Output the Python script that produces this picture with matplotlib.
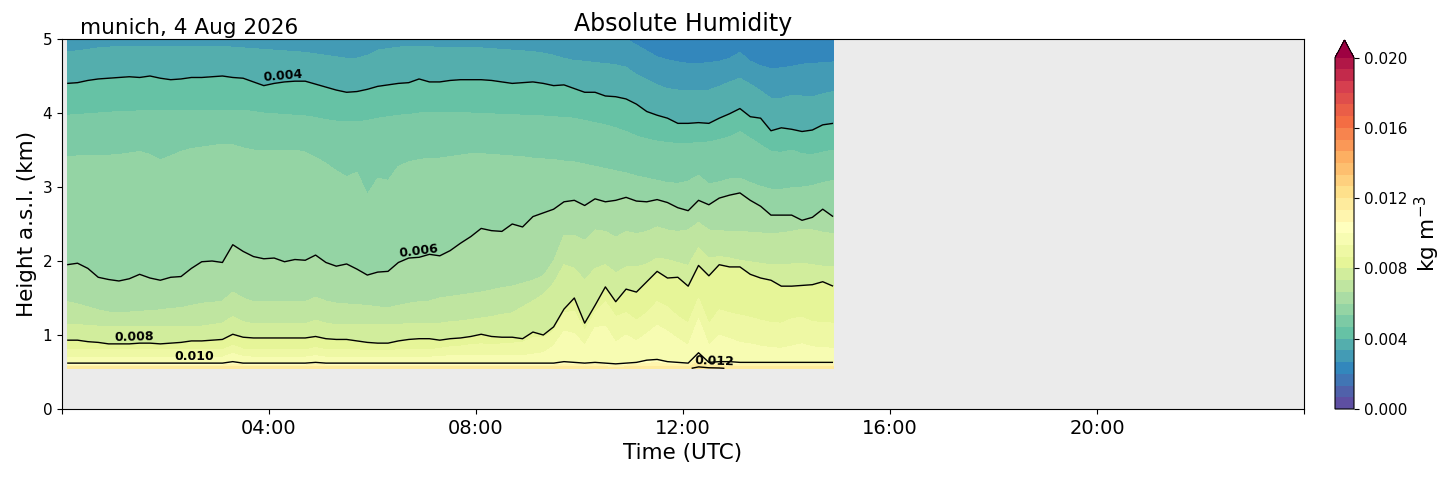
import numpy as np
import matplotlib
matplotlib.use("Agg")
import matplotlib.pyplot as plt
from matplotlib.colors import BoundaryNorm

# profile times (hours UTC), one profile every 12 min
hours = np.round(np.arange(0.1, 14.95, 0.2), 2)

# height (km) of humidity isolines, one value per profile
h_0027 = [5.0] * 55 + [4.92, 4.84, 4.76, 4.72, 4.69, 4.67, 4.67, 4.68, 4.70, 4.74,
                       4.82, 4.70, 4.64, 4.60, 4.61, 4.63, 4.66, 4.67, 4.68, 4.69]
h_0033 = [4.83, 4.84, 4.86, 4.88, 4.89, 4.90, 4.90, 4.90, 4.90, 4.90,
          4.90, 4.90, 4.90, 4.90, 4.90, 4.90, 4.89, 4.88, 4.87, 4.86,
          4.85, 4.84, 4.83, 4.82, 4.80, 4.78, 4.76, 4.74, 4.74, 4.78,
          4.85, 4.87, 4.89, 4.90, 4.90, 4.90, 4.88, 4.88, 4.89, 4.89,
          4.88, 4.87, 4.86, 4.85, 4.84, 4.83, 4.81, 4.78, 4.74, 4.71,
          4.70, 4.68, 4.67, 4.65, 4.62, 4.52, 4.45, 4.38, 4.33, 4.31,
          4.31, 4.31, 4.31, 4.36, 4.42, 4.47, 4.39, 4.30, 4.20, 4.20,
          4.24, 4.23, 4.22, 4.26, 4.29]
h_004 = [4.40, 4.41, 4.44, 4.46, 4.47, 4.48, 4.49, 4.48, 4.50, 4.47,
         4.45, 4.46, 4.48, 4.48, 4.49, 4.50, 4.48, 4.47, 4.42, 4.37,
         4.40, 4.42, 4.43, 4.43, 4.39, 4.35, 4.31, 4.28, 4.29, 4.32,
         4.36, 4.38, 4.40, 4.41, 4.46, 4.42, 4.42, 4.44, 4.45, 4.45,
         4.45, 4.44, 4.42, 4.40, 4.41, 4.42, 4.40, 4.37, 4.38, 4.33,
         4.28, 4.28, 4.23, 4.22, 4.19, 4.12, 4.02, 3.97, 3.93, 3.86,
         3.86, 3.87, 3.86, 3.93, 3.99, 4.06, 3.95, 3.93, 3.76, 3.80,
         3.78, 3.75, 3.77, 3.84, 3.86]
h_0047 = [3.97, 3.98, 3.99, 4.00, 4.01, 4.02, 4.02, 4.03, 4.03, 4.03,
          4.03, 4.04, 4.04, 4.04, 4.04, 4.04, 4.04, 4.04, 4.02, 4.00,
          3.99, 3.98, 3.97, 3.96, 3.94, 3.91, 3.89, 3.88, 3.88, 3.90,
          3.93, 3.95, 3.97, 3.98, 4.00, 4.01, 4.00, 4.01, 4.01, 4.00,
          3.99, 3.99, 3.98, 3.98, 3.97, 3.97, 3.96, 3.95, 3.94, 3.93,
          3.90, 3.87, 3.84, 3.80, 3.75, 3.69, 3.65, 3.62, 3.60, 3.59,
          3.59, 3.60, 3.61, 3.64, 3.68, 3.75, 3.66, 3.57, 3.48, 3.47,
          3.50, 3.45, 3.44, 3.47, 3.50]
h_0053 = [3.41, 3.42, 3.42, 3.43, 3.43, 3.44, 3.46, 3.48, 3.44, 3.37,
          3.42, 3.48, 3.52, 3.54, 3.56, 3.58, 3.57, 3.53, 3.50, 3.50,
          3.50, 3.49, 3.50, 3.47, 3.40, 3.32, 3.22, 3.14, 3.20, 2.90,
          3.12, 3.09, 3.28, 3.34, 3.37, 3.39, 3.39, 3.41, 3.43, 3.45,
          3.45, 3.44, 3.43, 3.42, 3.41, 3.39, 3.38, 3.37, 3.35, 3.34,
          3.31, 3.28, 3.25, 3.22, 3.19, 3.15, 3.12, 3.09, 3.06, 3.05,
          3.08, 3.16, 3.04, 3.07, 3.11, 3.12, 3.06, 3.01, 2.97, 2.97,
          2.99, 3.00, 3.02, 3.06, 3.09]
h_006 = [1.95, 1.97, 1.90, 1.78, 1.75, 1.73, 1.76, 1.82, 1.77, 1.74,
         1.78, 1.79, 1.90, 1.99, 2.00, 1.98, 2.22, 2.13, 2.06, 2.03,
         2.04, 1.99, 2.02, 2.01, 2.08, 1.98, 1.93, 1.96, 1.89, 1.81,
         1.85, 1.86, 1.98, 2.04, 2.05, 2.09, 2.07, 2.14, 2.24, 2.33,
         2.44, 2.41, 2.40, 2.50, 2.46, 2.60, 2.65, 2.70, 2.80, 2.82,
         2.75, 2.84, 2.80, 2.82, 2.86, 2.81, 2.80, 2.83, 2.79, 2.72,
         2.68, 2.82, 2.76, 2.85, 2.89, 2.92, 2.82, 2.74, 2.62, 2.62,
         2.62, 2.55, 2.59, 2.70, 2.60]
h_0067 = [1.45, 1.42, 1.38, 1.34, 1.31, 1.31, 1.31, 1.32, 1.33, 1.34,
          1.36, 1.37, 1.40, 1.43, 1.44, 1.46, 1.58, 1.50, 1.45, 1.45,
          1.45, 1.45, 1.45, 1.45, 1.51, 1.46, 1.43, 1.42, 1.41, 1.40,
          1.38, 1.37, 1.40, 1.43, 1.45, 1.46, 1.50, 1.52, 1.54, 1.56,
          1.58, 1.61, 1.64, 1.66, 1.70, 1.74, 1.80, 2.00, 2.35, 2.35,
          2.28, 2.42, 2.40, 2.32, 2.40, 2.37, 2.40, 2.46, 2.42, 2.40,
          2.42, 2.52, 2.42, 2.41, 2.40, 2.40, 2.39, 2.38, 2.37, 2.38,
          2.40, 2.43, 2.42, 2.39, 2.37]
h_0073 = [1.14, 1.14, 1.13, 1.12, 1.12, 1.12, 1.12, 1.12, 1.12, 1.12,
          1.12, 1.12, 1.12, 1.12, 1.14, 1.16, 1.25, 1.18, 1.15, 1.15,
          1.15, 1.15, 1.15, 1.15, 1.20, 1.16, 1.14, 1.14, 1.14, 1.14,
          1.14, 1.14, 1.14, 1.16, 1.16, 1.16, 1.16, 1.18, 1.19, 1.21,
          1.23, 1.25, 1.28, 1.30, 1.38, 1.46, 1.55, 1.70, 1.95, 1.90,
          1.74, 1.90, 1.95, 1.84, 1.92, 1.92, 1.96, 2.04, 2.02, 1.98,
          1.94, 2.18, 2.04, 2.06, 2.04, 2.01, 1.99, 1.97, 1.95, 1.95,
          1.96, 1.97, 1.95, 1.93, 1.92]
h_008 = [0.93, 0.93, 0.91, 0.90, 0.88, 0.88, 0.88, 0.89, 0.89, 0.88,
         0.89, 0.90, 0.92, 0.92, 0.93, 0.94, 1.01, 0.97, 0.96, 0.96,
         0.96, 0.96, 0.96, 0.96, 0.98, 0.95, 0.94, 0.94, 0.92, 0.90,
         0.89, 0.89, 0.92, 0.94, 0.95, 0.95, 0.93, 0.95, 0.96, 0.98,
         1.01, 0.98, 0.97, 0.97, 0.95, 1.04, 1.00, 1.11, 1.35, 1.50,
         1.16, 1.40, 1.65, 1.45, 1.62, 1.58, 1.72, 1.86, 1.77, 1.78,
         1.66, 1.94, 1.80, 1.95, 1.92, 1.92, 1.82, 1.77, 1.74, 1.66,
         1.66, 1.67, 1.68, 1.72, 1.66]
h_0087 = [0.80, 0.80, 0.80, 0.80, 0.80, 0.80, 0.80, 0.80, 0.80, 0.80,
          0.80, 0.80, 0.80, 0.80, 0.80, 0.80, 0.86, 0.81, 0.80, 0.80,
          0.80, 0.80, 0.80, 0.80, 0.83, 0.80, 0.80, 0.80, 0.80, 0.79,
          0.79, 0.79, 0.80, 0.80, 0.80, 0.80, 0.82, 0.84, 0.85, 0.87,
          0.88, 0.87, 0.88, 0.89, 0.90, 0.96, 0.96, 1.05, 1.30, 1.32,
          1.06, 1.30, 1.45, 1.25, 1.30, 1.20, 1.30, 1.45, 1.38, 1.25,
          1.16, 1.50, 1.15, 1.34, 1.30, 1.27, 1.24, 1.20, 1.17, 1.16,
          1.22, 1.24, 1.18, 1.17, 1.16]
h_0093 = [0.70, 0.70, 0.70, 0.70, 0.70, 0.70, 0.70, 0.70, 0.70, 0.70,
          0.70, 0.70, 0.70, 0.70, 0.70, 0.70, 0.75, 0.71, 0.70, 0.70,
          0.70, 0.70, 0.70, 0.70, 0.72, 0.70, 0.70, 0.70, 0.70, 0.70,
          0.70, 0.70, 0.70, 0.70, 0.70, 0.70, 0.71, 0.72, 0.72, 0.72,
          0.72, 0.72, 0.72, 0.72, 0.72, 0.74, 0.76, 0.85, 1.05, 1.02,
          0.86, 1.10, 1.12, 0.90, 1.00, 0.92, 1.02, 1.13, 1.05, 0.95,
          0.86, 1.22, 0.86, 1.00, 0.95, 0.90, 0.88, 0.85, 0.83, 0.82,
          0.85, 0.88, 0.84, 0.83, 0.82]
h_010 = [0.62, 0.62, 0.62, 0.62, 0.62, 0.62, 0.62, 0.62, 0.62, 0.62,
         0.62, 0.62, 0.62, 0.62, 0.62, 0.62, 0.64, 0.62, 0.62, 0.62,
         0.62, 0.62, 0.62, 0.62, 0.63, 0.62, 0.62, 0.62, 0.62, 0.62,
         0.62, 0.62, 0.62, 0.62, 0.62, 0.62, 0.62, 0.62, 0.62, 0.62,
         0.62, 0.62, 0.62, 0.62, 0.62, 0.62, 0.62, 0.62, 0.64, 0.63,
         0.62, 0.63, 0.62, 0.61, 0.62, 0.63, 0.66, 0.67, 0.64, 0.63,
         0.62, 0.76, 0.63, 0.64, 0.64, 0.63, 0.63, 0.63, 0.63, 0.63,
         0.63, 0.63, 0.63, 0.63, 0.63]

# humidity at the lowest gate (0.55 km) and at the top of the plot (5 km)
z_bottom = [0.0118] * 60 + [0.0119, 0.0122, 0.0122, 0.0121, 0.0119] + [0.0118] * 10
z_top = 0.0025
h_bottom = 0.55
h_top = 5.0

# humidity value of each isoline (kg m-3), bottom to top
iso_values = [0.010, 0.02 * 14 / 30, 0.02 * 13 / 30, 0.008, 0.02 * 11 / 30,
              0.02 * 10 / 30, 0.006, 0.02 * 8 / 30, 0.02 * 7 / 30, 0.004,
              0.02 * 5 / 30, 0.02 * 4 / 30]
iso_heights = [h_010, h_0093, h_0087, h_008, h_0073, h_0067, h_006,
               h_0053, h_0047, h_004, h_0033, h_0027]

line_levels = [0.004, 0.006, 0.008, 0.010, 0.012]
label_spots = [(4.27, 4.42), (6.9, 2.05), (1.39, 0.88), (2.55, 0.62), (12.6, 0.56)]
xtick_labels = ["", "04:00", "08:00", "12:00", "16:00", "20:00", ""]

# build the curvilinear grid: one row per isoline
n = len(hours)
Y = np.vstack([np.full(n, h_bottom)] + [np.array(h) for h in iso_heights] + [np.full(n, h_top)])
Z = np.vstack([np.array(z_bottom)] + [np.full(n, v) for v in iso_values] + [np.full(n, z_top)])
X = np.tile(hours, (Y.shape[0], 1))

fill_levels = np.linspace(0, 0.02, 31)
cmap = plt.get_cmap("Spectral_r")
norm = BoundaryNorm(fill_levels, ncolors=cmap.N, extend="max")

fig = plt.figure(figsize=(14.54, 4.78), dpi=100)
ax = fig.add_axes([62 / 1454, 69 / 478, 1242 / 1454, 370 / 478])
ax.set_facecolor("#ebebeb")

cf = ax.contourf(X, Y, Z, levels=fill_levels, cmap=cmap, norm=norm, extend="max")
cs = ax.contour(X, Y, Z, levels=line_levels, colors="k", linewidths=1.0)
labels = ax.clabel(cs, fmt="%.3f", fontsize=9, inline=False, manual=label_spots)
for txt in labels:
    txt.set_fontweight("bold")
    x, y = txt.get_position()
    txt.set_position((x, y + 0.09))

ax.set_xlim(0, 24)
ax.set_ylim(0, 5)
ax.set_xticks(np.arange(0, 25, 4))
ax.set_xticklabels(xtick_labels, fontsize=14)
ax.set_yticks(range(6))
ax.tick_params(axis="y", labelsize=11)
ax.set_xlabel("Time (UTC)", fontsize=15.5)
ax.set_ylabel("Height a.s.l. (km)", fontsize=15.5)
ax.set_title("Absolute Humidity", fontsize=17)
ax.text(0.0145, 1.003, "munich, 4 Aug 2026", transform=ax.transAxes,
        fontsize=15.5, va="bottom", ha="left")

cax = fig.add_axes([1335 / 1454, 69 / 478, 19 / 1454, 369 / 478])
cb = fig.colorbar(cf, cax=cax, ticks=np.arange(0, 0.0201, 0.004), format="%.3f")
cb.ax.minorticks_off()
cb.ax.tick_params(labelsize=11)
cb.set_label("kg m$^{-3}$", fontsize=15.5)

fig.savefig("out.png", dpi=100)
